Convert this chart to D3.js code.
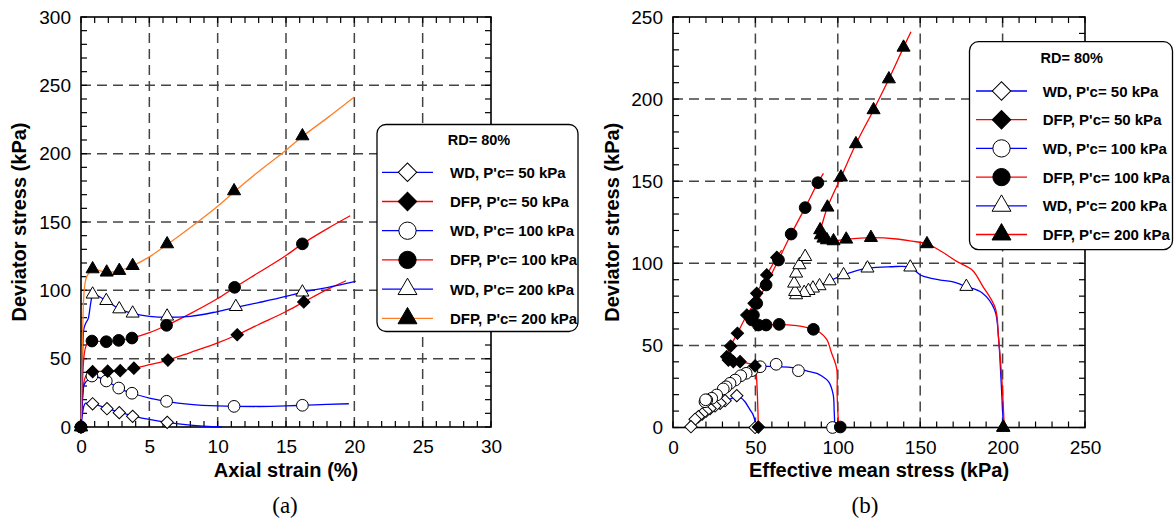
<!DOCTYPE html>
<html><head><meta charset="utf-8">
<script src="https://cdn.jsdelivr.net/npm/d3@7"></script>
<style>
body{margin:0;background:#fff;}
svg{display:block;font-family:"Liberation Sans",Arial,sans-serif;}
</style></head><body>
<svg id="c" width="1176" height="523"></svg>
<script>
// ---------- Panel (a): axial strain (%) vs deviator stress (kPa) ----------
const aTicksX = [0,5,10,15,20,25,30];
const aTicksY = [0,50,100,150,200,250,300];
const aWD50Line = [[0,0],[0.1,9],[0.2,15],[0.35,17.5],[0.85,17],[2,13.4],[3,10.3],[4,7.6],[5,5.5],[6.3,3.4],[8,1.4],[10.3,0]];
const aWD50Pts = [[0,0],[0.85,17],[1.9,13.4],[2.8,10.5],[3.78,7.8],[6.31,3.4]];
const aDFP50Line = [[0,0],[0.08,18],[0.2,32],[0.4,38],[0.85,40.5],[1.95,40.8],[2.87,41.2],[3.87,43],[5,45.6],[6.36,49],[8,54.5],[10,61.5],[11.43,67.5],[13,75],[15,84.5],[16.3,91.5],[18,100.5],[19.4,107]];
const aDFP50Pts = [[0,0],[0.85,40.5],[1.95,40.8],[2.87,41.2],[3.87,43],[6.36,49],[11.43,67.5],[16.3,91.5]];
const aWD100Line = [[0,0],[0.1,18],[0.2,30],[0.35,33],[0.55,34.5],[0.85,37.3],[1.85,33.7],[2.76,28.5],[3.73,24.7],[5,21.2],[6.26,18.8],[8,16.6],[10,15.4],[11.2,15.1],[13,15],[15,15.4],[16.2,15.9],[18,16.6],[19.6,17]];
const aWD100Pts = [[0,0],[0.8,37.3],[1.85,33.7],[2.76,28.5],[3.73,24.7],[6.26,18.8],[11.2,15.1],[16.2,15.9]];
const aDFP100Line = [[0,0],[0.08,25],[0.2,50],[0.4,60],[0.8,62.9],[1.85,62.4],[2.76,63.4],[3.73,65.1],[5,69],[6.26,74.4],[8,83],[10,94],[11.24,102],[13,113],[15,125.5],[16.2,134],[18,145],[19.7,154.6]];
const aDFP100Pts = [[0,0],[0.8,62.9],[1.85,62.4],[2.76,63.4],[3.73,65.1],[6.26,74.4],[11.24,102.2],[16.2,134]];
const aWD200Line = [[0,0],[0.08,40],[0.18,70],[0.35,76],[0.55,80],[0.7,90],[0.85,97],[1.85,92.4],[2.8,86.3],[3.78,83.2],[5,81],[6.3,80.3],[8,81],[10,84.5],[11.33,87.5],[13,91],[15,95.5],[16.2,98.6],[18,102],[20.1,106.5]];
const aWD200Pts = [[0,0],[0.85,97.1],[1.85,92.4],[2.8,86.3],[3.78,83.2],[6.3,81],[11.33,88],[16.2,98.6]];
const aDFP200Line = [[0,0],[0.05,30],[0.12,70],[0.2,95],[0.35,108],[0.6,113],[0.85,115.6],[1.88,113.2],[2.8,114.4],[3.78,118],[5,124.5],[6.3,133.5],[8,146],[10,161.5],[11.2,172],[13,187],[15,202.5],[16.2,212.5],[18,226],[20,241.5]];
const aDFP200Pts = [[0,0],[0.85,115.6],[1.88,113.2],[2.8,114.4],[3.78,118],[6.3,133.9],[11.2,172.7],[16.2,212.9]];

// ---------- Panel (b): effective mean stress (kPa) vs deviator stress (kPa) ----------
const bTicksX = [0,50,100,150,200,250];
const bTicksY = [0,50,100,150,200,250];
const bWD50Line = [[50.5,0],[49.5,5],[48.5,8],[46.8,10.7],[43.7,15.7],[41,18.3],[38.7,19],[35.7,17.8],[31.6,16.3],[28.6,14.7],[25.5,13.1],[22.5,11.5],[20.1,9.9],[17.7,8.2],[15.4,6.6],[13.4,5],[10.7,2.5],[9.8,0]];
const bWD50Pts = [[49.8,0],[38.7,19.4],[31.6,16.3],[28.6,14.7],[25.5,13.1],[22.5,11.5],[20.1,9.9],[17.7,8.2],[15.4,6.6],[13.4,5],[10.9,0.5]];
const bDFP50Line = [[51.8,0],[51.2,20],[50.5,33],[49.8,37.5],[45,39.2],[40.7,40.1],[36.6,40.1],[33.6,41.1],[32.6,43.1],[35,49.6],[39.1,57.4],[44.8,68.5],[49.2,75.6],[50.8,81.7],[56.9,92.9],[63,103.6],[66,108]];
const bDFP50Pts = [[51.8,0.3],[49.8,37.5],[40.7,40.1],[36.6,40.1],[34.5,42],[33.6,41.1],[32.6,43.1],[35,49.6],[39.1,57.4],[44.8,68.5],[49.2,75.6],[50.8,81.7],[56.9,92.9],[63,103.6]];
const bWD100Line = [[98.2,0],[97.8,10],[97.2,20],[94.4,27.9],[90,31.5],[87.3,33],[82,34.2],[77.2,35.6],[70,36.8],[64,37],[58,37.2],[52.9,37],[47.8,34.6],[44.4,33],[41.1,31.5],[37.7,28.9],[34.6,26.9],[32.2,24.8],[29,22],[26.5,19.8],[23.5,17.8],[20.5,16.7],[19.4,15.7]];
const bWD100Pts = [[96.8,0],[76.1,34.6],[62.6,38.5],[52.9,37],[47.8,34.6],[44.4,33],[41.1,31.5],[37.7,28.9],[34.6,26.9],[32.2,24.8],[30.5,23.5],[26.5,19.8],[23.5,17.8],[20.5,16.7],[19.4,15.7],[19.8,16.9]];
const bDFP100Line = [[100.5,0],[99.6,20],[99.3,36],[96,46],[93.4,53.5],[89,58],[85.2,59.8],[75,62],[64.4,62.8],[56.5,62.4],[51.8,62.4],[48.5,63.5],[47.8,65.5],[48.8,68.5],[50.8,75.6],[56.5,86.8],[64,102],[71.7,117.8],[80.2,133.9],[87.9,149.1],[91.3,154.8]];
const bDFP100Pts = [[101.5,0.3],[85.2,59.8],[64.4,62.8],[56.5,62.4],[51.8,62.4],[47.8,65.5],[48.8,68.5],[50.8,75.6],[56.5,86.8],[64,102],[71.7,117.8],[80.2,133.9],[87.9,149.1]];
const bWD200Line = [[200.5,0],[199,30],[197.5,55],[195.2,71.6],[187.5,82.1],[178,85.8],[169.3,88.8],[162.2,89.8],[156,91],[150.1,92.9],[144,97.6],[131.8,97.9],[118,97],[103.5,92.9],[95,89.2],[88.9,86.2],[84.9,84.8],[82.2,83.3],[79.6,82.1],[74.7,80.7],[74.1,82.7],[73.5,87.8],[74.7,93.9],[76.7,99],[80.2,104],[81,107.5]];
const bWD200Pts = [[200.3,0],[178,85.8],[144,97.6],[118,97],[103.5,92.9],[95,89.2],[88.9,86.2],[84.9,84.8],[82.2,83.3],[79.6,82.1],[74.7,80.7],[74.1,82.7],[73.5,87.8],[74.7,93.9],[76.7,99],[80.2,104]];
const bDFP200Line = [[201,0],[199.5,30],[197.5,55],[195.6,72.6],[188,86],[181.5,95.9],[172.4,101],[163.2,107],[154.1,111.8],[145,113.5],[135.9,114.8],[120.1,115.6],[105.1,114.6],[97.4,113.6],[93.4,114.2],[91.3,115.2],[89.7,117.2],[89.3,120.3],[90.3,123.3],[93.7,134.1],[101.9,152.4],[111,172.7],[121.7,193.4],[131,212.2],[139.9,231.5],[144.4,241]];
const bDFP200Pts = [[200.5,0],[154.1,111.8],[120.1,115.6],[105.1,114.6],[97.4,113.6],[93.4,114.2],[91.3,115.2],[89.7,117.2],[89.3,120.3],[93.7,134.1],[101.9,152.4],[111,172.7],[121.7,193.4],[131,212.2],[139.9,231.5]];

const legendTitle = "RD= 80%";
const legendLabels = ["WD, P'c= 50 kPa","DFP, P'c= 50 kPa","WD, P'c= 100 kPa","DFP, P'c= 100 kPa","WD, P'c= 200 kPa","DFP, P'c= 200 kPa"];
const seriesShapes = ["diamond","diamond","circle","circle","triangle","triangle"];
const seriesFilled = [false,true,false,true,false,true];
const aColors = ["#0000ff","#ff0000","#0000ff","#ff0000","#0000ff","#ff7f27"];
const bColors = ["#0000ff","#ff0000","#0000ff","#ff0000","#0000ff","#ff0000"];

const svg = d3.select("#c");
const FONT = "'Liberation Sans', Arial, sans-serif";

function symbolPath(shape, size){
  if(shape==="diamond") return d3.symbol(d3.symbolSquare, size)();
  if(shape==="circle") return d3.symbol(d3.symbolCircle, size)();
  return d3.symbol(d3.symbolTriangle, size)();
}
const markerSize = {diamond:76, circle:108, triangle:74};
const legendMarkerSize = {diamond:170, circle:235, triangle:155};

function drawPanel(cfg){
  const g = svg.append("g");
  const x = cfg.x, y = cfg.y;
  const [x0,x1] = x.range(), [y0,y1] = y.range();
  g.selectAll(".gx").data(cfg.gridX).join("line")
    .attr("x1",d=>x(d)).attr("x2",d=>x(d)).attr("y1",y0).attr("y2",y1)
    .attr("stroke","#444").attr("stroke-width",1.5).attr("stroke-dasharray","10,6");
  g.selectAll(".gy").data(cfg.gridY).join("line")
    .attr("y1",d=>y(d)).attr("y2",d=>y(d)).attr("x1",x0).attr("x2",x1)
    .attr("stroke","#444").attr("stroke-width",1.5).attr("stroke-dasharray","10,6");
  const tk = 6;
  g.selectAll(".tb").data(cfg.minorX).join("line")
    .attr("x1",d=>x(d)).attr("x2",d=>x(d)).attr("y1",y0).attr("y2",y0-tk).attr("stroke","#000").attr("stroke-width",1.2);
  g.selectAll(".tt").data(cfg.minorX).join("line")
    .attr("x1",d=>x(d)).attr("x2",d=>x(d)).attr("y1",y1).attr("y2",y1+tk).attr("stroke","#000").attr("stroke-width",1.2);
  g.selectAll(".tl").data(cfg.minorY).join("line")
    .attr("y1",d=>y(d)).attr("y2",d=>y(d)).attr("x1",x0).attr("x2",x0+tk).attr("stroke","#000").attr("stroke-width",1.2);
  g.selectAll(".tr").data(cfg.minorY).join("line")
    .attr("y1",d=>y(d)).attr("y2",d=>y(d)).attr("x1",x1).attr("x2",x1-tk).attr("stroke","#000").attr("stroke-width",1.2);
  const ax = g.append("g").attr("transform",`translate(0,${y0})`)
    .call(d3.axisBottom(x).tickValues(cfg.ticksX).tickSize(0).tickPadding(13).tickFormat(d3.format("d")));
  const ay = g.append("g").attr("transform",`translate(${x0},0)`)
    .call(d3.axisLeft(y).tickValues(cfg.ticksY).tickSize(0).tickPadding(10).tickFormat(d3.format("d")));
  [ax,ay].forEach(a=>{ a.select(".domain").remove(); a.selectAll("text").attr("font-size",19).attr("font-family",FONT).attr("fill","#000"); });
  g.append("rect").attr("x",x0).attr("y",y1).attr("width",x1-x0).attr("height",y0-y1)
    .attr("fill","none").attr("stroke","#000").attr("stroke-width",1.6);
  const line = d3.line().x(d=>x(d[0])).y(d=>y(d[1])).curve(cfg.curve);
  cfg.series.forEach((s,i)=>{
    g.append("path").attr("d",line(s.line)).attr("fill","none").attr("stroke",cfg.colors[i]).attr("stroke-width",1.3);
  });
  const order = [0,2,4,1,3,5];
  order.forEach(i=>{
    const s = cfg.series[i];
    const sh = seriesShapes[i];
    g.selectAll(null).data(s.pts).join("path")
      .attr("d",symbolPath(sh, markerSize[sh]))
      .attr("transform",d=>`translate(${x(d[0])},${y(d[1])})`+(sh==="diamond"?" rotate(45)":""))
      .attr("fill",seriesFilled[i]?"#000":"#fff").attr("stroke","#000").attr("stroke-width",1);
  });
  g.append("text").attr("x",(x0+x1)/2).attr("y",477).attr("text-anchor","middle")
    .attr("font-size",20).attr("font-weight","bold").attr("font-family",FONT).text(cfg.xTitle);
  g.append("text").attr("transform",`translate(${cfg.yTitleX},${(y0+y1)/2}) rotate(-90)`).attr("text-anchor","middle")
    .attr("font-size",20).attr("font-weight","bold").attr("font-family",FONT).text("Deviator stress (kPa)");
  g.append("text").attr("x",cfg.capX).attr("y",513).attr("text-anchor","middle")
    .attr("font-size",23).attr("font-family","'Liberation Serif','Times New Roman',serif").text(cfg.caption);
  const L = cfg.legend;
  const lg = g.append("g");
  lg.append("rect").attr("x",L.x).attr("y",L.y).attr("width",L.w).attr("height",L.h).attr("rx",9).attr("ry",9)
    .attr("fill","#fff").attr("stroke","#000").attr("stroke-width",1.3);
  lg.append("text").attr("x",L.titleX).attr("y",L.titleY).attr("text-anchor","middle").attr("dominant-baseline","central")
    .attr("font-size",14.5).attr("font-weight","bold").attr("font-family",FONT).text(legendTitle);
  legendLabels.forEach((lab,i)=>{
    const ry = L.row0 + i*L.dy;
    lg.append("line").attr("x1",L.lx0).attr("x2",L.lx1).attr("y1",ry).attr("y2",ry).attr("stroke",cfg.colors[i]).attr("stroke-width",1.3);
    const sh = seriesShapes[i];
    lg.append("path").attr("d",symbolPath(sh, legendMarkerSize[sh]))
      .attr("transform",`translate(${(L.lx0+L.lx1)/2},${ry})`+(sh==="diamond"?" rotate(45)":""))
      .attr("fill",seriesFilled[i]?"#000":"#fff").attr("stroke","#000").attr("stroke-width",1);
    lg.append("text").attr("x",L.tx).attr("y",ry).attr("dominant-baseline","central")
      .attr("font-size",15).attr("font-weight","bold").attr("font-family",FONT).text(lab);
  });
}

drawPanel({
  x: d3.scaleLinear().domain([0,30]).range([81,491]),
  y: d3.scaleLinear().domain([0,300]).range([427,17]),
  ticksX: aTicksX, ticksY: aTicksY,
  gridX: aTicksX.slice(1,-1), gridY: aTicksY.slice(1,-1),
  minorX: d3.range(0,31,1), minorY: d3.range(0,301,10),
  curve: d3.curveMonotoneX,
  colors: aColors,
  series: [
    {line:aWD50Line, pts:aWD50Pts},{line:aDFP50Line, pts:aDFP50Pts},
    {line:aWD100Line, pts:aWD100Pts},{line:aDFP100Line, pts:aDFP100Pts},
    {line:aWD200Line, pts:aWD200Pts},{line:aDFP200Line, pts:aDFP200Pts}],
  xTitle: "Axial strain (%)", yTitleX: 26, caption: "(a)", capX: 285,
  legend: {x:377, y:124.5, w:201, h:207, titleX:479, titleY:140, row0:172.3, dy:29.2, lx0:382, lx1:433, tx:450}
});

drawPanel({
  x: d3.scaleLinear().domain([0,250]).range([673,1085]),
  y: d3.scaleLinear().domain([0,250]).range([427.5,17]),
  ticksX: bTicksX, ticksY: bTicksY,
  gridX: bTicksX.slice(1,-1), gridY: bTicksY.slice(1,-1),
  minorX: d3.range(0,251,10), minorY: d3.range(0,251,10),
  curve: d3.curveCatmullRom.alpha(0.5),
  colors: bColors,
  series: [
    {line:bWD50Line, pts:bWD50Pts},{line:bDFP50Line, pts:bDFP50Pts},
    {line:bWD100Line, pts:bWD100Pts},{line:bDFP100Line, pts:bDFP100Pts},
    {line:bWD200Line, pts:bWD200Pts},{line:bDFP200Line, pts:bDFP200Pts}],
  xTitle: "Effective mean stress (kPa)", yTitleX: 619, caption: "(b)", capX: 865,
  legend: {x:969.5, y:41.7, w:203, h:208, titleX:1071.7, titleY:57.7, row0:91, dy:28.7, lx0:976, lx1:1027, tx:1042.7}
});
</script>
</body></html>
